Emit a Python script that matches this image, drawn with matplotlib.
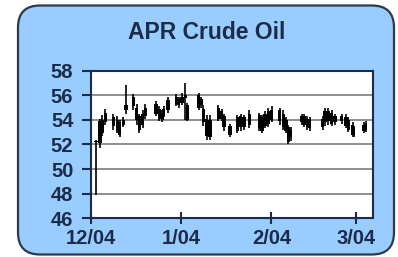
import matplotlib
matplotlib.use("Agg")
import matplotlib.pyplot as plt
from matplotlib.patches import FancyBboxPatch

title = "APR Crude Oil"
tick_days = [0, 31, 62, 91]
tick_labels = ["12/04", "1/04", "2/04", "3/04"]
y_ticks = [46, 48, 50, 52, 54, 56, 58]

days = [1.8, 3.2, 3.9, 5.0, 7.8, 9.1, 9.9, 11.2, 12.1, 14.6, 15.8, 16.7, 17.8, 18.7,
        22.4, 23.5, 24.5, 25.1, 26.5, 29.3, 30.2, 31.3, 32.5, 33.1, 37.0, 37.9, 38.6,
        39.8, 40.9, 43.8, 44.9, 45.7, 47.8, 50.3, 51.5, 52.6, 54.4, 57.8, 58.8, 59.8,
        60.9, 62.1, 64.9, 66.1, 67.0, 67.8, 68.6, 72.4, 73.2, 74.3, 75.2, 79.6, 80.4,
        81.5, 82.7, 83.8, 86.1, 87.6, 88.4, 89.9, 90.3, 93.8, 94.4]
highs = [52.4, 54.1, 54.4, 54.9, 54.5, 54.3, 54.0, 54.2, 56.8, 56.1, 55.3, 54.5, 54.8, 55.3,
         55.5, 55.1, 54.8, 55.1, 55.9, 56.1, 55.9, 56.2, 57.0, 55.4, 56.2, 55.9, 55.2,
         54.4, 54.4, 55.2, 54.9, 54.5, 53.7, 54.4, 54.5, 54.4, 54.8, 54.6, 54.4, 54.7,
         55.0, 55.1, 55.0, 54.8, 54.2, 53.6, 53.4, 54.5, 54.5, 54.3, 54.2, 54.3, 55.0,
         55.0, 54.8, 54.5, 54.5, 54.5, 54.2, 53.8, 53.5, 53.8, 53.9]
lows = [47.9, 51.7, 52.7, 53.6, 53.2, 52.9, 52.6, 53.4, 54.5, 54.8, 53.6, 52.9, 53.3, 54.1,
        54.3, 53.9, 53.8, 54.2, 54.6, 55.1, 55.0, 55.2, 54.0, 53.9, 54.8, 55.0, 53.5,
        52.4, 52.4, 53.9, 53.9, 53.1, 52.6, 52.9, 53.1, 53.2, 53.3, 53.1, 52.9, 53.3,
        53.4, 53.8, 53.6, 53.2, 52.9, 52.0, 52.3, 53.6, 53.4, 53.2, 53.1, 53.2, 53.5,
        53.6, 53.5, 53.6, 53.7, 53.3, 53.0, 52.6, 52.6, 52.9, 53.0]
opens = [52.3, 53.9, 54.0, 54.6, 54.2, 54.0, 53.8, 54.0, 55.2, 55.9, 55.0, 54.3, 54.5, 55.0,
         55.3, 54.9, 54.6, 54.9, 55.6, 55.9, 55.7, 55.9, 56.0, 55.2, 56.0, 55.7, 54.9,
         54.1, 54.0, 55.0, 54.7, 54.3, 53.5, 54.2, 54.3, 54.2, 54.5, 54.4, 54.2, 54.5,
         54.7, 54.8, 54.8, 54.5, 54.0, 53.4, 53.2, 54.3, 54.3, 54.1, 54.0, 54.1, 54.7,
         54.7, 54.6, 54.3, 54.3, 54.2, 54.0, 53.6, 53.3, 53.6, 53.7]
closes = [52.2, 52.1, 52.9, 53.8, 53.5, 53.1, 52.8, 53.6, 54.8, 55.1, 54.0, 53.2, 53.6, 54.3,
          54.5, 54.1, 54.0, 54.4, 54.8, 55.3, 55.2, 55.4, 55.8, 54.0, 55.0, 55.2, 53.8,
          52.7, 52.6, 54.1, 54.1, 53.4, 52.8, 53.1, 53.4, 53.4, 53.6, 53.3, 53.1, 53.5,
          53.7, 54.0, 53.9, 53.4, 53.1, 52.2, 52.6, 53.8, 53.6, 53.4, 53.3, 53.4, 53.8,
          53.9, 53.7, 53.8, 53.9, 53.5, 53.2, 52.8, 52.8, 53.1, 53.2]

navy = "#1c2b48"
fig = plt.figure(figsize=(3.98, 2.57), dpi=100)
fig.patch.set_facecolor("white")

box = FancyBboxPatch((0.18, 0.025), 3.76, 2.49,
                     boxstyle="round,pad=0,rounding_size=0.22",
                     transform=fig.dpi_scale_trans, facecolor="#99ccff",
                     edgecolor="#2f3a48", linewidth=1.6, zorder=-5)
fig.patches.append(box)

ax = fig.add_axes([0.228, 0.1506, 0.708, 0.5744])
ax.set_zorder(2)
ax.set_facecolor("white")
for g in [48, 50, 52, 54, 56]:
    ax.axhline(g, color="#707070", linewidth=1.1, zorder=1)

ax.vlines(days, lows, highs, color="black", linewidth=1.2, zorder=3)
bottoms = [min(o, c) for o, c in zip(opens, closes)]
heights = [abs(o - c) for o, c in zip(opens, closes)]
ax.bar(days, heights, bottom=bottoms, width=1.1, color="black", zorder=3)

ax.set_xlim(0, 96.7)
ax.set_ylim(46, 58)
ax.set_yticks(y_ticks)
ax.set_xticks(tick_days)
ax.set_xticklabels(tick_labels)

for s in ax.spines.values():
    s.set_color(navy)
    s.set_linewidth(1.5)

ax.tick_params(axis="y", direction="out", length=6.5, width=1.5, color=navy,
               pad=6, labelsize=14.5, labelcolor=navy)
ax.tick_params(axis="x", direction="inout", length=9, width=1.5, color=navy,
               pad=3, labelsize=14.5, labelcolor=navy)
for lab in ax.get_xticklabels() + ax.get_yticklabels():
    lab.set_fontfamily("Liberation Sans")
    lab.set_fontweight("bold")

fig.text(0.52, 0.874, title, ha="center", va="center", fontsize=16.5,
         fontweight="bold", color=navy, family="Liberation Sans")

fig.savefig("out.png", dpi=100)
